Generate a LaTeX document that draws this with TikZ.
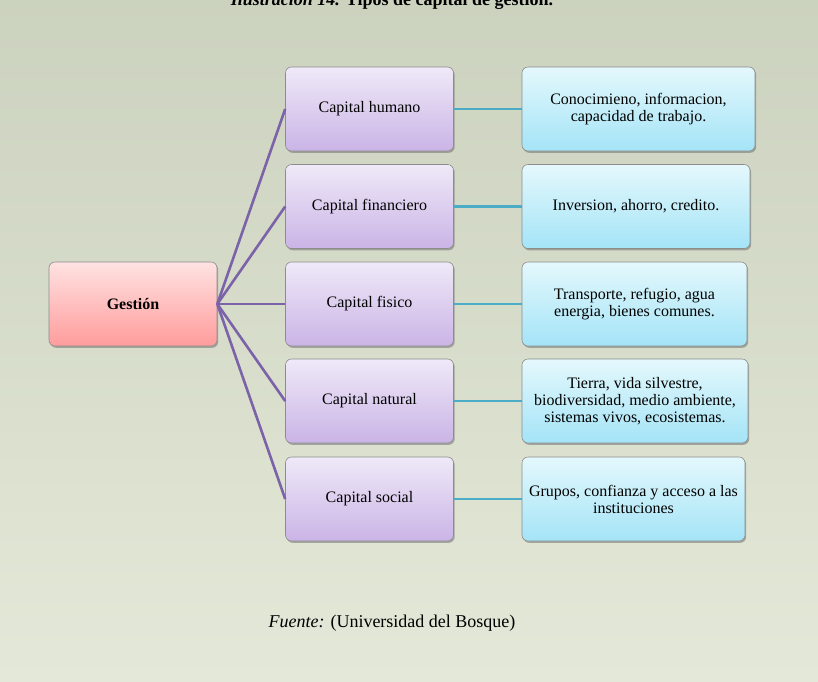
\documentclass[tikz,border=0pt]{standalone}
\usepackage{fontspec}
\setmainfont{Liberation Serif}
\usetikzlibrary{shadows}
\definecolor{bgtop}{HTML}{CBD2BE}
\definecolor{bgbot}{HTML}{E4E8D8}
\definecolor{boxline}{HTML}{8C8C8C}
\definecolor{gtop}{HTML}{FFE2E2}
\definecolor{gbot}{HTML}{FF9C9C}
\definecolor{mtop}{HTML}{EFE9F8}
\definecolor{mbot}{HTML}{CAB4E6}
\definecolor{rtop}{HTML}{E4F8FC}
\definecolor{rbot}{HTML}{A4E4F7}
\definecolor{purpleline}{HTML}{7B62A9}
\definecolor{tealline}{HTML}{4BACC6}
\begin{document}
\begin{tikzpicture}[x=1pt,y=-1pt,
  box/.style={draw=boxline, line width=0.6pt, rounded corners=6pt, align=center,
    font=\fontsize{16}{17}\selectfont, inner sep=2pt, minimum height=84,
    drop shadow={shadow xshift=1.2pt, shadow yshift=-1.8pt, opacity=0.4, fill=black!70}},
  gbox/.style={box, top color=gtop, bottom color=gbot, minimum width=168},
  mbox/.style={box, top color=mtop, bottom color=mbot, minimum width=168},
  rbox/.style={box, top color=rtop, bottom color=rbot},
  plink/.style={draw=purpleline, line width=2.6pt},
  tlink/.style={draw=tealline, line width=2.8pt}]
\useasboundingbox (0,0) rectangle (818,681);
\shade[top color=bgtop, bottom color=bgbot] (0,0) rectangle (818,681);

\node[anchor=base, font=\fontsize{18}{20}\selectfont] (title) at (392,5)
  {\textbf{\textit{Ilustración 14.}} \textbf{Tipos de capital de gestión.}};

\node[gbox] (g) at (133,304) {\textbf{Gestión}};

\node[mbox] (m1) at (369.5,109) {Capital humano};
\node[mbox] (m2) at (369.5,206.5) {Capital financiero};
\node[mbox] (m3) at (369.5,304) {Capital fisico};
\node[mbox] (m4) at (369.5,401) {Capital natural};
\node[mbox] (m5) at (369.5,499) {Capital social};

\node[rbox, minimum width=233] (r1) at (638.5,109) {Conocimieno, informacion,\\capacidad de trabajo.};
\node[rbox, minimum width=228] (r2) at (636,206.5) {Inversion, ahorro, credito.};
\node[rbox, minimum width=225] (r3) at (634.5,304) {Transporte, refugio, agua\\energia, bienes comunes.};
\node[rbox, minimum width=226] (r4) at (635,401) {Tierra, vida silvestre,\\biodiversidad, medio ambiente,\\sistemas vivos, ecosistemas.};
\node[rbox, minimum width=223] (r5) at (633.5,499) {Grupos, confianza y acceso a las\\instituciones};

\foreach \i in {1,...,5} {
  \draw[plink] (g.east) -- (m\i.west);
  \draw[tlink] (m\i.east) -- (r\i.west);
}

\node[anchor=base, font=\fontsize{18}{20}\selectfont] (src) at (392,627)
  {\textit{Fuente:} (Universidad del Bosque)};
\end{tikzpicture}
\end{document}
